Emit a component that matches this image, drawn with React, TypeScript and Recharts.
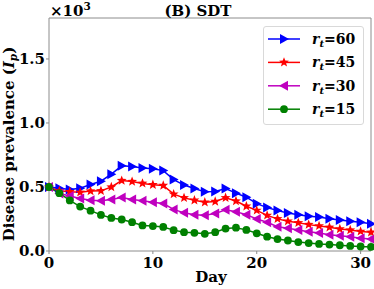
import React from "react";
import { LineChart, Line, XAxis, YAxis, ReferenceArea } from "recharts";

const days = [0, 1, 2, 3, 4, 5, 6, 7, 8, 9, 10, 11, 12, 13, 14, 15, 16, 17, 18, 19, 20, 21, 22, 23, 24, 25, 26, 27, 28, 29, 30, 31];

// values in units of 10^3
const rt60 = [0.5, 0.49, 0.48, 0.49, 0.52, 0.545, 0.6, 0.665, 0.66, 0.648, 0.642, 0.628, 0.558, 0.515, 0.488, 0.462, 0.465, 0.488, 0.452, 0.42, 0.37, 0.339, 0.317, 0.296, 0.283, 0.272, 0.265, 0.252, 0.243, 0.233, 0.225, 0.212];
const rt45 = [0.5, 0.47, 0.463, 0.458, 0.468, 0.47, 0.5, 0.55, 0.542, 0.528, 0.518, 0.512, 0.444, 0.415, 0.397, 0.381, 0.387, 0.416, 0.39, 0.35, 0.317, 0.278, 0.251, 0.233, 0.22, 0.206, 0.196, 0.185, 0.172, 0.164, 0.153, 0.146];
const rt30 = [0.5, 0.45, 0.429, 0.41, 0.397, 0.392, 0.402, 0.418, 0.402, 0.392, 0.38, 0.371, 0.325, 0.298, 0.284, 0.28, 0.292, 0.322, 0.307, 0.284, 0.25, 0.225, 0.19, 0.177, 0.164, 0.151, 0.14, 0.127, 0.119, 0.111, 0.1, 0.093];
const rt15 = [0.5, 0.452, 0.395, 0.347, 0.315, 0.282, 0.258, 0.246, 0.225, 0.2, 0.195, 0.188, 0.163, 0.147, 0.142, 0.134, 0.147, 0.175, 0.182, 0.165, 0.138, 0.112, 0.093, 0.082, 0.07, 0.062, 0.055, 0.05, 0.045, 0.04, 0.035, 0.032];

const xTicks = [0, 10, 20, 30];
const yTicks = [0, 0.5, 1, 1.5];

const series = [
  { key: "rt60", label: "60", color: "#0000ff", marker: "triR" },
  { key: "rt45", label: "45", color: "#ff0000", marker: "star" },
  { key: "rt30", label: "30", color: "#bf00bf", marker: "triL" },
  { key: "rt15", label: "15", color: "#008000", marker: "circle" },
];

const data = days.map((d, i) => ({ day: d, rt60: rt60[i], rt45: rt45[i], rt30: rt30[i], rt15: rt15[i] }));

const FONT = "'DejaVu Serif', serif";
const AXIS = "#8c8c8c";

function starPoints(cx: number, cy: number, ro: number, ri: number) {
  const pts: string[] = [];
  for (let k = 0; k < 10; k++) {
    const r = k % 2 === 0 ? ro : ri;
    const a = -Math.PI / 2 + (k * Math.PI) / 5;
    pts.push(`${cx + r * Math.cos(a)},${cy + r * Math.sin(a)}`);
  }
  return pts.join(" ");
}

function Marker({ type, cx, cy, color }: { type: string; cx: number; cy: number; color: string }) {
  if (type === "circle") return <circle cx={cx} cy={cy} r={3.9} fill={color} />;
  if (type === "star") return <polygon points={starPoints(cx, cy, 5.2, 2.2)} fill={color} />;
  if (type === "triR")
    return <polygon points={`${cx + 5},${cy} ${cx - 4},${cy - 5} ${cx - 4},${cy + 5}`} fill={color} />;
  return <polygon points={`${cx - 5},${cy} ${cx + 4},${cy - 5} ${cx + 4},${cy + 5}`} fill={color} />;
}

const makeDot = (type: string, color: string) => (p: any) => {
  const { cx, cy, index } = p;
  if (cx == null || cy == null) return <g key={`e${index}`} />;
  return (
    <g key={`d${type}${index}`}>
      <Marker type={type} cx={cx} cy={cy} color={color} />
    </g>
  );
};

function LegendBox() {
  return (
    <div
      style={{
        position: "absolute",
        left: 263,
        top: 26,
        width: 101,
        height: 99,
        boxSizing: "border-box",
        border: "1px solid #d9d9d9",
        borderRadius: 3,
        background: "rgba(255,255,255,0.8)",
      }}
    >
      <svg width={99} height={97} style={{ display: "block" }}>
        {series.map((s, i) => {
          const y = 12 + i * 23.4;
          return (
            <g key={s.key}>
              <line x1={4} x2={36} y1={y} y2={y} stroke={s.color} strokeWidth={1.5} />
              <Marker type={s.marker} cx={20} cy={y} color={s.color} />
              <text x={48} y={y + 5} fontFamily={FONT} fontWeight="bold" fontSize={14} fill="#000">
                <tspan fontStyle="italic">r</tspan>
                <tspan fontStyle="italic" fontSize={10} dy={3}>t</tspan>
                <tspan dy={-3}>={s.label}</tspan>
              </text>
            </g>
          );
        })}
      </svg>
    </div>
  );
}

export default function App() {
  return (
    <div style={{ position: "absolute", left: 0, top: 0, width: 374, height: 289, background: "#fff" }}>
      <LineChart width={374} height={289} data={data} margin={{ top: 18, right: 3, left: 0, bottom: 0 }}>
        <XAxis
          dataKey="day"
          type="number"
          domain={[0, 31]}
          ticks={xTicks}
          height={38}
          tickSize={3}
          tickMargin={3}
          axisLine={false}
          tickLine={{ stroke: AXIS }}
          tick={{ fill: "#000", fontSize: 15, fontFamily: FONT, fontWeight: "bold" }}
        />
        <YAxis
          type="number"
          domain={[0, 1.82]}
          ticks={yTicks}
          width={49}
          tickSize={3}
          tickMargin={1}
          axisLine={false}
          tickLine={{ stroke: AXIS }}
          tickFormatter={(v: number) => v.toFixed(1)}
          tick={{ fill: "#000", fontSize: 15, fontFamily: FONT, fontWeight: "bold" }}
        />
        <ReferenceArea x1={0} x2={31} y1={0} y2={1.82} fill="none" stroke={AXIS} strokeWidth={1} ifOverflow="visible" />
        {series.map((s) => (
          <Line
            key={s.key}
            dataKey={s.key}
            stroke={s.color}
            strokeWidth={1.5}
            type="linear"
            dot={makeDot(s.marker, s.color)}
            activeDot={false}
            isAnimationActive={false}
          />
        ))}
      </LineChart>
      <LegendBox />
      <svg
        width={374}
        height={289}
        style={{ position: "absolute", left: 0, top: 0, pointerEvents: "none" }}
      >
        <text x={50} y={16} fontFamily={FONT} fontWeight="bold" fontSize={15} fill="#000">
          ×10<tspan fontSize={10.5} dy={-6}>3</tspan>
        </text>
        <text x={198} y={16} textAnchor="middle" fontFamily={FONT} fontWeight="bold" fontSize={15} fill="#000">
          (B) SDT
        </text>
        <text x={211} y={282} textAnchor="middle" fontFamily={FONT} fontWeight="bold" fontSize={15} fill="#000">
          Day
        </text>
        <text
          x={14}
          y={144}
          textAnchor="middle"
          transform="rotate(-90,14,144)"
          fontFamily={FONT}
          fontWeight="bold"
          fontSize={15}
          fill="#000"
        >
          Disease prevalence (<tspan fontStyle="italic">I</tspan>
          <tspan fontStyle="italic" fontSize={10.5} dy={3}>p</tspan>
          <tspan dy={-3}>)</tspan>
        </text>
      </svg>
    </div>
  );
}
